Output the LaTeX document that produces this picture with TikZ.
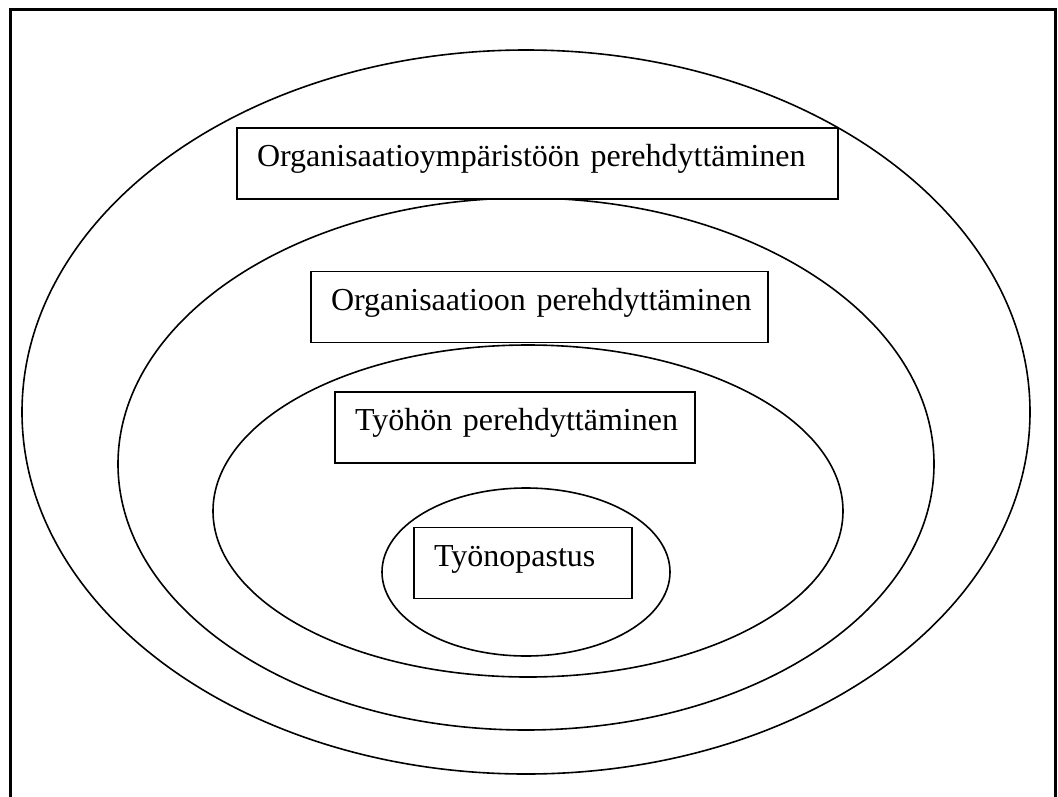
\documentclass[tikz,border=0pt]{standalone}
\usepackage{fontspec}
\setmainfont{Liberation Serif}
\usepackage{tikz}
\usetikzlibrary{positioning}

\tikzset{
  kasten/.style={draw, fill=white, line width=1.6pt, rectangle, inner xsep=20pt, inner ysep=0pt,
    minimum height=71pt, text height=23pt, text depth=17pt, align=left,
    font=\fontsize{32}{38}\selectfont}
}

\begin{document}
\begin{tikzpicture}[x=1pt,y=-1pt]
      \useasboundingbox (0,0) rectangle (1058,796);
      \clip (0,0) rectangle (1058,796);

      % Rahmen (unten abgeschnitten)
      \draw[line width=3pt] (10,820) -- (10,9) -- (1055.5,9) -- (1055.5,820);

      % Ellipsen von aussen nach innen
      \foreach \cx/\cy/\rx/\ry in {526/412/504/362,526/464/408/266,528/511/315/166,526/572/144/84}
      {
        \draw[line width=1.6pt] (\cx,\cy) ellipse (\rx pt and \ry pt);
      }

      % Kaesten mit Text
      \node[kasten, text width=561pt] (ympar) at (537.5,163.5) {\mbox{Organisaatioympäristöön perehdyttäminen}};
      \node[kasten, text width=417pt] (organ) at (539.5,307) {\mbox{Organisaatioon perehdyttäminen}};
      \node[kasten, text width=320pt] (tyohon) at (515,427.5) {\mbox{Työhön perehdyttäminen}};
      \node[kasten, text width=178pt] (opastus) at (523,563) {\mbox{Työnopastus}};
    \end{tikzpicture}
\end{document}
